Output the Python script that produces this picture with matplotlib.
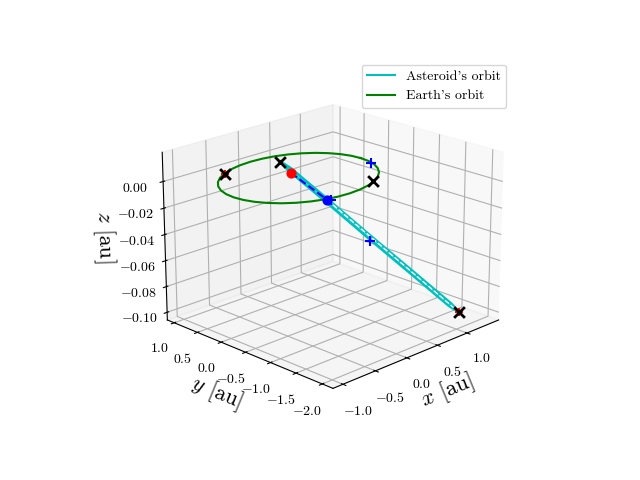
import matplotlib
matplotlib.use('Agg')
import matplotlib.pyplot as plt

plt.rcParams['font.family'] = ['cmr10', 'DejaVu Sans']
plt.rcParams['mathtext.fontset'] = 'cm'
plt.rcParams['axes.unicode_minus'] = False
plt.rcParams['axes.formatter.use_mathtext'] = True

earth_x = [1.04, 1.025, 0.98, 0.906, 0.806, 0.683, 0.54, 0.382, 0.214, 0.04, -0.134, -0.302, -0.46,
           -0.603, -0.726, -0.826, -0.9, -0.945, -0.96, -0.945, -0.9, -0.826, -0.726, -0.603, -0.46,
           -0.302, -0.134, 0.04, 0.214, 0.382, 0.54, 0.683, 0.806, 0.906, 0.98, 1.025, 1.04]
earth_y = [-0.05, 0.124, 0.292, 0.45, 0.593, 0.716, 0.816, 0.89, 0.935, 0.95, 0.935, 0.89, 0.816,
           0.716, 0.593, 0.45, 0.292, 0.124, -0.05, -0.224, -0.392, -0.55, -0.693, -0.816, -0.916,
           -0.99, -1.035, -1.05, -1.035, -0.99, -0.916, -0.816, -0.693, -0.55, -0.392, -0.224, -0.05]
earth_z = [0.0] * 37

ast_x = [0.065, 0.158, 0.391, 0.682, 0.972, 1.205, 1.228, 1.135, 0.902, 0.612, 0.321, 0.088, 0.065]
ast_y = [0.359, 0.271, -0.159, -0.698, -1.236, -1.666, -1.794, -1.706, -1.276, -0.738, -0.199, 0.231, 0.359]
ast_z = [0.0065, 0.0012, -0.02, -0.047, -0.0734, -0.0947, -0.1, -0.0947, -0.0734, -0.047, -0.02, 0.0012, 0.0065]

sun = [0.086, 0.179, 0.0]
blue_dot = [0.419, -0.141, -0.022]
blue_plus_x = [0.983, 0.451, 0.606]
blue_plus_y = [-0.314, -0.181, -0.764]
blue_plus_z = [0.0, -0.022, -0.048]
black_x = [0.065, 0.538, -0.489, 1.228]
black_y = [0.359, -0.904, 0.779, -1.794]
black_z = [0.0065, 0.0, 0.0, -0.1]
red_x = [-0.489, 1.228]
red_y = [0.779, -1.794]
red_z = [0.0, -0.1]

x_ticks = [-1.0, -0.5, 0.0, 0.5, 1.0]
x_labels = ['$-1.0$', '$-0.5$', '$0.0$', '$0.5$', '$1.0$']
y_ticks = [-2.0, -1.5, -1.0, -0.5, 0.0, 0.5, 1.0]
y_labels = ['$-2.0$', '$-1.5$', '$-1.0$', '$-0.5$', '$0.0$', '$0.5$', '$1.0$']
z_ticks = [-0.10, -0.08, -0.06, -0.04, -0.02, 0.00]
z_labels = ['$-0.10$', '$-0.08$', '$-0.06$', '$-0.04$', '$-0.02$', '$0.00$']

fig = plt.figure(figsize=(6.4, 4.8), dpi=100)
ax = fig.add_subplot(projection='3d', computed_zorder=False)
ax.view_init(elev=20, azim=-135)

ax.plot(ast_x, ast_y, ast_z, color='c', lw=2, label="Asteroid's orbit", zorder=2)
ax.plot(earth_x, earth_y, earth_z, color='g', label="Earth's orbit", zorder=3)
ax.plot([sun[0], blue_dot[0]], [sun[1], blue_dot[1]], [sun[2], blue_dot[2]], 'b--', zorder=4)
ax.plot([blue_dot[0], black_x[3]], [blue_dot[1], black_y[3]], [blue_dot[2], black_z[3]], 'w--', lw=1, zorder=4)
ax.scatter(red_x, red_y, red_z, color='r', marker='+', s=40, linewidths=1.5, depthshade=False, zorder=5)
ax.scatter(black_x, black_y, black_z, color='k', marker='x', s=60, linewidths=2, depthshade=False, zorder=6)
ax.scatter(blue_plus_x, blue_plus_y, blue_plus_z, color='b', marker='+', s=50, linewidths=1.5, depthshade=False, zorder=7)
ax.scatter(*sun, color='r', marker='o', s=40, depthshade=False, zorder=8)
ax.scatter(*blue_dot, color='b', marker='o', s=40, depthshade=False, zorder=8)

ax.set_xlim(-1.15, 1.55)
ax.set_ylim(-2.2, 1.15)
ax.set_zlim(-0.106, 0.0217)
ax.set_xticks(x_ticks, x_labels)
ax.set_yticks(y_ticks, y_labels)
ax.set_zticks(z_ticks, z_labels)
ax.set_xlabel('$x$ [au]', fontsize=16, labelpad=1)
ax.set_ylabel('$y$ [au]', fontsize=16, labelpad=2)
ax.set_zlabel('$z$ [au]', fontsize=16, labelpad=4)

leg = fig.legend(loc='upper left', bbox_to_anchor=(0.554, 0.88), fontsize=10)
leg.get_lines()[0].set_linewidth(1.5)
fig.savefig('out.png', dpi=100)
